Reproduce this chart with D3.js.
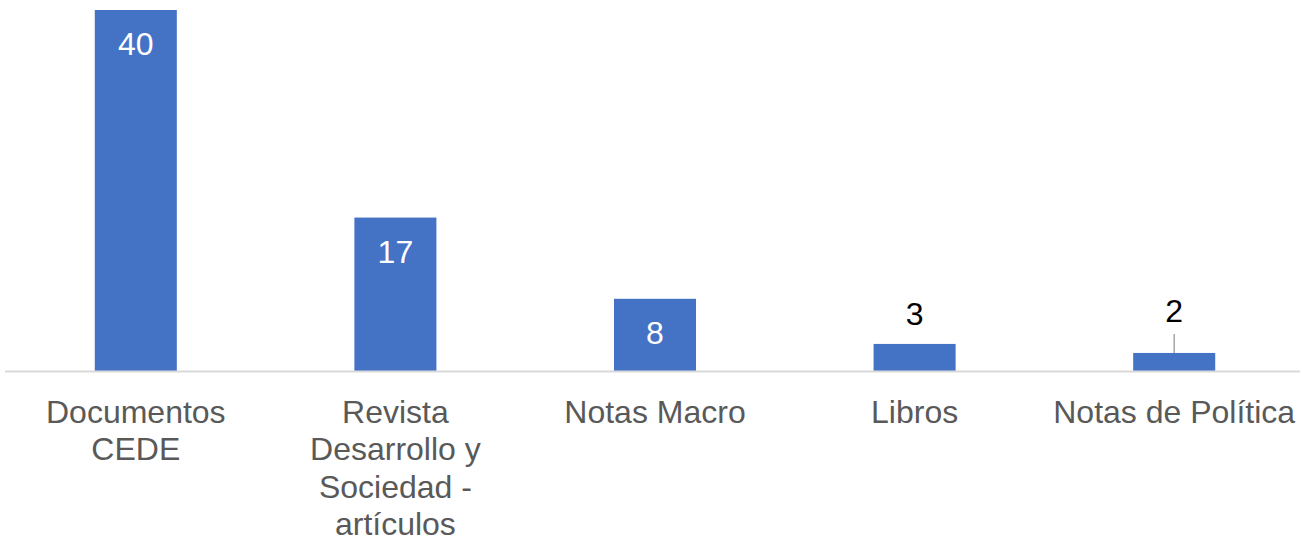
<!DOCTYPE html>
<html>
<head>
<meta charset="utf-8">
<script src="https://cdn.jsdelivr.net/npm/d3@7"></script>
<style>
  body { margin: 0; background: #fff; }
  text { font-family: "Liberation Sans", Arial, sans-serif; }
</style>
</head>
<body>
<div id="visual"></div>
<script>
const categories = [
  ["Documentos", "CEDE"],
  ["Revista", "Desarrollo y", "Sociedad -", "artículos"],
  ["Notas Macro"],
  ["Libros"],
  ["Notas de Política"]
]
const values = [40, 17, 8, 3, 2]

let width = 1302,
    height = 541

const baseline = 371

const svg = d3.select("#visual")
  .append("svg")
  .attr("width", width)
  .attr("height", height)

let scaleX = d3.scaleBand()
  .domain(d3.range(values.length))
  .range([6, 1304])
  .paddingInner(0.684)
  .paddingOuter(0.342)

let scaleY = d3.scaleLinear()
  .domain([0, 40])
  .range([baseline, 10])

// bars
svg.append("g")
  .selectAll("rect")
  .data(values)
  .enter()
  .append("rect")
  .attr("x", (d, i) => scaleX(i))
  .attr("y", d => scaleY(d))
  .attr("width", scaleX.bandwidth())
  .attr("height", d => baseline - scaleY(d))
  .attr("fill", "#4472c4")

// axis line
svg.append("line")
  .attr("x1", 5)
  .attr("x2", 1300)
  .attr("y1", baseline + 0.5)
  .attr("y2", baseline + 0.5)
  .attr("stroke", "#d9d9d9")
  .attr("stroke-width", 2)

// value labels: inside for tall bars, above for short ones
const inside = d => baseline - scaleY(d) > 50
svg.append("g")
  .selectAll("text")
  .data(values)
  .enter()
  .append("text")
  .attr("x", (d, i) => scaleX(i) + scaleX.bandwidth() / 2)
  .attr("y", (d, i) => {
    if (inside(d)) return scaleY(d) + 45
    if (i === 4) return 322
    return scaleY(d) - 19
  })
  .attr("text-anchor", "middle")
  .attr("font-size", "32px")
  .attr("fill", d => inside(d) ? "#fff" : "#000")
  .text(d => d)

// leader line for the last label
svg.append("line")
  .attr("x1", scaleX(4) + scaleX.bandwidth() / 2)
  .attr("x2", scaleX(4) + scaleX.bandwidth() / 2)
  .attr("y1", 334)
  .attr("y2", scaleY(values[4]))
  .attr("stroke", "#a6a6a6")
  .attr("stroke-width", 1.5)

// category labels
const cat = svg.append("g")
  .selectAll("text")
  .data(categories)
  .enter()
  .append("text")
  .attr("x", (d, i) => scaleX(i) + scaleX.bandwidth() / 2)
  .attr("y", 423)
  .attr("text-anchor", "middle")
  .attr("font-size", "32px")
  .attr("fill", "#595959")

cat.selectAll("tspan")
  .data(d => d)
  .enter()
  .append("tspan")
  .attr("x", function() { return d3.select(this.parentNode).attr("x") })
  .attr("dy", (d, j) => j === 0 ? 0 : 37.3)
  .text(d => d)
</script>
</body>
</html>
